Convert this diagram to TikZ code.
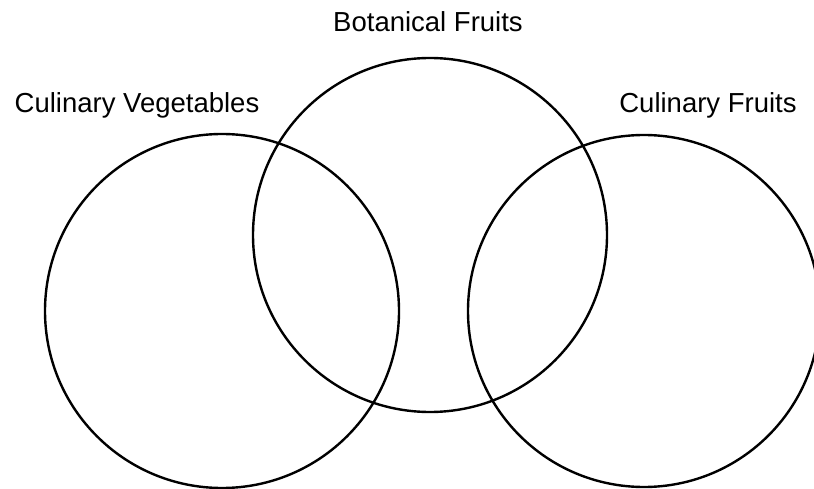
\documentclass[tikz,border=0pt]{standalone}
\usepackage{fontspec}
\setmainfont{Liberation Sans}
\usetikzlibrary{positioning}

\begin{document}
\begin{tikzpicture}[
    x=1pt, y=1pt,
    set/.style={draw, circle, line width=2.4pt, minimum size=354pt, inner sep=0pt},
    title/.style={font=\fontsize{27.5}{33}\selectfont, inner sep=0pt}
  ]
    \useasboundingbox (0,0) rectangle (814,488);
    \node[set] (veg) at (222,177) {};
    \node[set] (bot) at (430,253) {};
    \node[set, minimum size=352pt] (cfruit) at (644,177) {};

    \node[title] (botlabel) at (428,466) {Botanical Fruits};
    \node[title] (veglabel) at (137,383) {Culinary Vegetables};
    \node[title] (cfruitlabel) at (708,383) {Culinary Fruits};
  \end{tikzpicture}
\end{document}
